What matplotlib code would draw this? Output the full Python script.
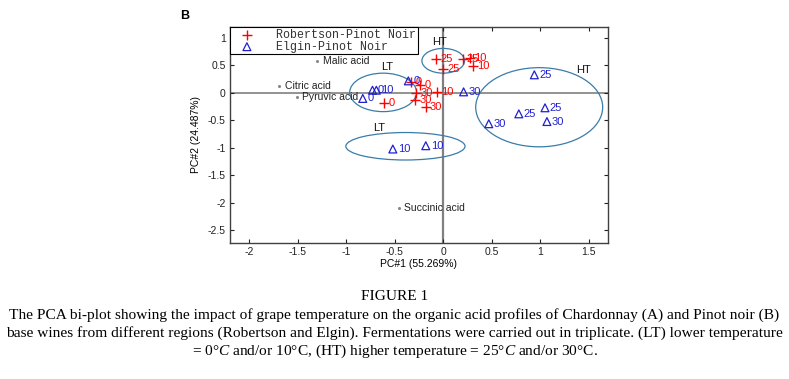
import matplotlib
matplotlib.use("Agg")
import matplotlib.pyplot as plt
from matplotlib.patches import Ellipse

# ---- data ----
rob_x = [-0.07, 0.00, 0.20, 0.28, 0.31, -0.33, -0.24, -0.61, -0.28, -0.06, -0.29, -0.18]
rob_y = [0.61, 0.43, 0.61, 0.63, 0.49, 0.20, 0.145, -0.18, 0.00, 0.02, -0.13, -0.25]
rob_lab = ["25", "25", "25", "10", "10", "0", "0", "0", "30", "10", "30", "30"]

elg_x = [-0.36, -0.73, -0.69, -0.83, 0.21, 0.94, 1.05, 0.78, 0.47, 1.07, -0.52, -0.18]
elg_y = [0.22, 0.05, 0.05, -0.10, 0.02, 0.33, -0.27, -0.38, -0.56, -0.52, -1.02, -0.96]
elg_lab = ["0", "0", "10", "0", "30", "25", "25", "25", "30", "30", "10", "10"]

acid_names = ["Malic acid", "Citric acid", "Pyruvic acid", "Succinic acid"]
acid_x = [-1.30, -1.69, -1.51, -0.46]
acid_y = [0.58, 0.13, -0.08, -2.10]

ell_cx = [0.00, -0.62, -0.39, 0.99]
ell_cy = [0.585, 0.01, -0.97, -0.26]
ell_w = [0.44, 0.69, 1.23, 1.31]
ell_h = [0.45, 0.70, 0.50, 1.44]

grp_lab = ["HT", "LT", "LT", "HT"]
grp_x = [-0.04, -0.58, -0.66, 1.45]
grp_y = [0.92, 0.48, -0.63, 0.41]

xticks = [-2, -1.5, -1, -0.5, 0, 0.5, 1, 1.5]
yticks = [-2.5, -2, -1.5, -1, -0.5, 0, 0.5, 1]

plt.rcParams['font.family'] = ['Liberation Sans', 'DejaVu Sans']
plt.rcParams['mathtext.fontset'] = 'custom'
plt.rcParams['mathtext.rm'] = 'Liberation Serif'
plt.rcParams['mathtext.it'] = 'Liberation Serif:italic'

fig = plt.figure(figsize=(7.89, 3.79), dpi=100)
ax = fig.add_axes([0.2915, 0.3588, 0.4791, 0.5700])
ax.set_xlim(-2.2, 1.7)
ax.set_ylim(-2.73, 1.2)

ax.axhline(0, color='#808080', lw=1.2, zorder=1)
ax.axvline(0, color='#808080', lw=1.6, zorder=1)

for cx, cy, w, h in zip(ell_cx, ell_cy, ell_w, ell_h):
    ax.add_patch(Ellipse((cx, cy), w, h, fill=False, edgecolor='#3a7ca8', lw=0.9, zorder=2))

ax.scatter(rob_x, rob_y, marker='+', color='red', s=50, lw=1.0, zorder=3,
           label='Robertson-Pinot Noir')
ax.scatter(elg_x, elg_y, marker='^', facecolors='none', edgecolors='#2020d0', s=32,
           lw=0.9, zorder=3, label='Elgin-Pinot Noir')

for x, y, t in zip(rob_x, rob_y, rob_lab):
    ax.annotate(t, (x, y), xytext=(3, 0), textcoords='offset points', color='red',
                fontsize=8, va='center', ha='left', zorder=4)
for x, y, t in zip(elg_x, elg_y, elg_lab):
    ax.annotate(t, (x, y), xytext=(3.5, 0), textcoords='offset points', color='#2020d0',
                fontsize=8, va='center', ha='left', zorder=4)

ax.scatter(acid_x, acid_y, marker='.', color='#888888', s=6, zorder=3)
for name, x, y in zip(acid_names, acid_x, acid_y):
    ax.annotate(name, (x, y), xytext=(4, 0), textcoords='offset points', color='#222222',
                fontsize=7.5, va='center', ha='left', zorder=4)

for t, x, y in zip(grp_lab, grp_x, grp_y):
    ax.text(x, y, t, fontsize=8, ha='center', va='center', color='#111111')

ax.set_xticks(xticks)
ax.set_xticklabels([f"{v:g}" for v in xticks])
ax.set_yticks(yticks)
ax.set_yticklabels([f"{v:g}" for v in yticks])
ax.tick_params(direction='in', top=True, right=True, length=3, labelsize=7.5,
               colors='#222222', pad=3)
for s in ax.spines.values():
    s.set_color('#404040')
    s.set_linewidth(1.0)

ax.set_xlabel('PC#1 (55.269%)', fontsize=7.5, labelpad=1)
ax.set_ylabel('PC#2 (24.487%)', fontsize=7.5, labelpad=5)

leg = ax.legend(loc='upper left', bbox_to_anchor=(0, 1), borderaxespad=0,
                fancybox=False, edgecolor='black', framealpha=1,
                prop={'family': 'Liberation Mono', 'size': 8.4},
                handlelength=2.6, handletextpad=1.2, labelspacing=0.0,
                borderpad=0.15)
leg.get_frame().set_linewidth(0.8)
for txt in leg.get_texts():
    txt.set_color('#333333')

fig.text(0.228, 0.95, 'B', fontsize=9, fontweight='bold')

cap_font = {'family': 'Liberation Serif', 'size': 11.05, 'color': 'black'}
fig.text(0.5, 1 - 296 / 379, 'FIGURE 1', ha='center', va='center', **cap_font)
fig.text(0.5, 1 - 315 / 379,
         'The PCA bi-plot showing the impact of grape temperature on the organic acid profiles of Chardonnay (A) and Pinot noir (B)',
         ha='center', va='center', **cap_font)
fig.text(0.5, 1 - 333 / 379,
         'base wines from different regions (Robertson and Elgin). Fermentations were carried out in triplicate. (LT) lower temperature',
         ha='center', va='center', **cap_font)
fig.text(0.5, 1 - 351 / 379,
         r'= 0°$\it{C}$ and/or 10°C, (HT) higher temperature = 25°$\it{C}$ and/or 30°C.',
         ha='center', va='center', **cap_font)

fig.savefig('out.png', dpi=100)
